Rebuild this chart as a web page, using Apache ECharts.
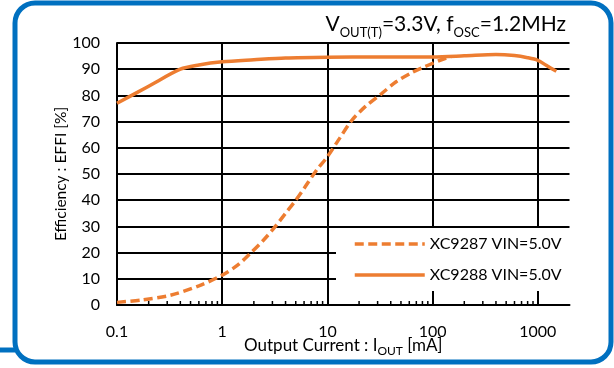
<!DOCTYPE html>
<html>
<head>
<meta charset="utf-8">
<script src="https://cdn.jsdelivr.net/npm/echarts@6/dist/echarts.min.js"></script>
<style>
html, body { margin: 0; padding: 0; background: #fff; }
#chart { width: 614px; height: 368px; }
</style>
</head>
<body>
<div id="chart"></div>
<script>
// XC9287 (dashed) - efficiency vs output current
var xc9287Current = [0.1, 0.17, 0.32, 0.6, 1, 1.4, 1.85, 2.5, 3.2, 4.0, 4.9, 6.0, 7.9, 10, 13, 17, 23, 33, 45, 62, 80, 100, 125, 150];
var xc9287Effi    = [1.0, 1.9, 3.7, 7.3, 11.4, 15.2, 19.7, 25.0, 30.0, 35.0, 39.5, 44.5, 51.5, 56.6, 63.5, 70.4, 75.8, 80.8, 85.2, 88.5, 90.6, 92.2, 93.8, 94.8];

// XC9288 (solid)
var xc9288Current = [0.1, 0.2, 0.4, 0.6, 1, 2, 4, 10, 30, 100, 200, 400, 600, 800, 1000, 1200, 1500];
var xc9288Effi    = [77, 83.5, 90, 91.6, 92.8, 93.6, 94.3, 94.6, 94.7, 94.7, 95.1, 95.6, 95.2, 94.4, 93.4, 91.5, 89.2];

var minorTicks = [0.2, 0.3, 0.4, 0.5, 0.6, 0.7, 0.8, 0.9,
                  2, 3, 4, 5, 6, 7, 8, 9,
                  20, 30, 40, 50, 60, 70, 80, 90,
                  200, 300, 400, 500, 600, 700, 800, 900];

var seriesNames = ['XC9287 VIN=5.0V', 'XC9288 VIN=5.0V'];

var orange = '#ED7D31';
var font = 'Lato';

function pairs(xs, ys) {
    return xs.map(function (x, i) { return [x, ys[i]]; });
}

var chart = echarts.init(document.getElementById('chart'));
var option = {
    backgroundColor: '#fff',
    animation: false,
    title: {
        text: 'V{sub|OUT(T)}=3.3V, f{sub|OSC}=1.2MHz',
        right: 48,
        top: 9,
        padding: 0,
        textStyle: {
            fontFamily: font,
            fontSize: 21,
            fontWeight: 'normal',
            color: '#000',
            lineHeight: 30,
            rich: {
                sub: { fontFamily: font, fontSize: 13, lineHeight: 15, verticalAlign: 'bottom', color: '#000' }
            }
        }
    },
    graphic: [
        {
            type: 'rect',
            shape: { x: 15, y: 3, width: 596, height: 359, r: 20 },
            style: { fill: null, stroke: '#0070C0', lineWidth: 5 },
            z: 100
        },
        {
            type: 'line',
            shape: { x1: 0, y1: 350, x2: 15, y2: 350 },
            style: { stroke: '#0070C0', lineWidth: 5 },
            z: 100
        }
    ],
    legend: {
        data: seriesNames,
        orient: 'vertical',
        left: 336,
        top: 228,
        padding: [8, 30, 8, 17],
        itemGap: 15,
        itemWidth: 70,
        itemHeight: 14,
        backgroundColor: '#fff',
        z: 10,
        itemStyle: { opacity: 0 },
        lineStyle: { width: 3.5 },
        textStyle: { fontFamily: font, fontSize: 16, color: '#000' }
    },
    grid: {
        left: 117,
        right: 44.5,
        top: 43,
        bottom: 63,
        containLabel: false
    },
    xAxis: {
        type: 'log',
        logBase: 10,
        min: 0.1,
        max: 2000,
        name: 'Output Current : I{sub|OUT} [mA]',
        nameLocation: 'middle',
        nameGap: 30,
        nameMoveOverlap: false,
        nameTextStyle: {
            fontFamily: font,
            fontSize: 17,
            color: '#000',
            lineHeight: 22,
            rich: {
                sub: { fontFamily: font, fontSize: 12, lineHeight: 13, verticalAlign: 'bottom', color: '#000' }
            }
        },
        axisLine: { show: true, lineStyle: { color: '#000', width: 2 } },
        axisTick: { show: false },
        axisLabel: {
            fontFamily: font,
            fontSize: 16,
            color: '#000',
            margin: 19,
            showMaxLabel: false,
            formatter: function (v) { return String(v); }
        },
        splitLine: { show: true, showMaxLine: false, lineStyle: { color: '#000', width: 2 } }
    },
    yAxis: {
        type: 'value',
        min: 0,
        max: 100,
        interval: 10,
        name: 'Efficiency : EFFI [%]',
        nameLocation: 'middle',
        nameGap: 48,
        nameMoveOverlap: false,
        nameTextStyle: { fontFamily: font, fontSize: 15.5, color: '#000' },
        axisLine: { show: true, lineStyle: { color: '#000', width: 2 } },
        axisTick: { show: false },
        axisLabel: { fontFamily: font, fontSize: 16, color: '#000', margin: 17 },
        splitLine: { show: true, lineStyle: { color: '#000', width: 2 } }
    },
    series: [
        {
            name: seriesNames[0],
            type: 'line',
            data: pairs(xc9287Current, xc9287Effi),
            smooth: 0.3,
            symbol: 'none',
            z: 3,
            lineStyle: { color: orange, width: 3.5, type: [9, 4.5], cap: 'butt' },
            itemStyle: { color: orange }
        },
        {
            name: seriesNames[1],
            type: 'line',
            data: pairs(xc9288Current, xc9288Effi),
            smooth: 0.3,
            symbol: 'none',
            z: 3,
            lineStyle: { color: orange, width: 3.5 },
            itemStyle: { color: orange }
        },
        {
            // minor log ticks on the x axis
            type: 'custom',
            silent: true,
            z: 4,
            data: minorTicks.map(function (v) { return [v, 0]; }),
            renderItem: function (params, api) {
                var p = api.coord([api.value(0), 0]);
                return {
                    type: 'line',
                    shape: { x1: p[0], y1: p[1], x2: p[0], y2: p[1] - 4 },
                    style: { stroke: '#000', lineWidth: 1.5 }
                };
            }
        }
    ]
};
chart.setOption(option);
</script>
</body>
</html>
